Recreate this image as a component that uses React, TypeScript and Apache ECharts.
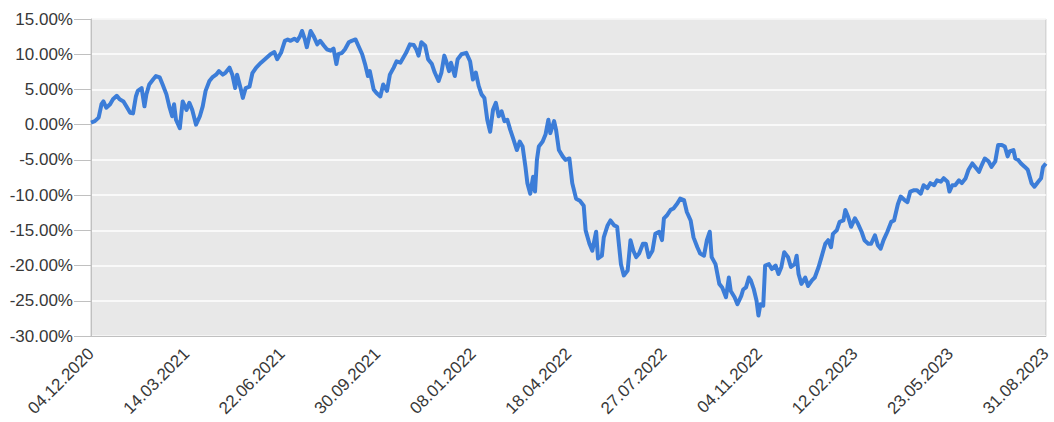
import React, { useEffect, useRef } from "react";
import * as echarts from "echarts";

// Day offsets since 04.12.2020 and cumulative return (%)
const dayOffsets = [
  0, 4, 8, 11, 13, 16, 20, 23, 27, 30, 34, 37, 41, 44, 47, 49, 53, 56, 58, 61,
  65, 68, 72, 75, 79, 82, 85, 87, 89, 93, 96, 100, 103, 106, 110, 114, 117, 120, 124, 127,
  131, 134, 138, 141, 145, 148, 151, 153, 157, 159, 162, 166, 169, 173, 178, 183, 188, 192, 195, 199,
  203, 206, 209, 213, 216, 219, 221, 224, 226, 230, 233, 237, 240, 244, 247, 251, 254, 257, 259, 263,
  266, 270, 273, 277, 280, 284, 287, 290, 292, 296, 299, 303, 306, 310, 313, 317, 320, 324, 327, 330,
  334, 338, 341, 343, 346, 350, 353, 357, 360, 364, 367, 370, 372, 375, 377, 381, 384, 388, 393, 397,
  400, 403, 406, 409, 412, 415, 418, 421, 424, 427, 430, 433, 436, 439, 442, 446, 449, 452, 455, 457,
  460, 463, 465, 467, 469, 473, 476, 479, 481, 485, 487, 490, 494, 497, 501, 504, 508, 512, 516, 518,
  522, 525, 529, 531, 535, 537, 541, 544, 548, 551, 555, 558, 562, 565, 568, 571, 574, 578, 581, 584,
  588, 591, 595, 598, 600, 603, 607, 610, 614, 617, 621, 624, 628, 631, 635, 638, 642, 645, 648, 650,
  654, 658, 661, 665, 668, 670, 674, 677, 681, 683, 686, 689, 691, 694, 697, 699, 701, 704, 706, 710,
  713, 717, 720, 723, 726, 730, 733, 737, 739, 741, 744, 748, 751, 755, 758, 762, 765, 769, 772, 775,
  777, 781, 784, 788, 790, 793, 796, 800, 803, 807, 810, 814, 817, 821, 824, 827, 830, 834, 838, 841,
  845, 848, 852, 855, 858, 862, 865, 869, 872, 876, 879, 883, 886, 890, 893, 897, 899, 902, 905, 909,
  912, 916, 919, 923, 926, 930, 933, 936, 940, 943, 947, 950, 954, 957, 960, 962, 966, 968, 971, 974,
  978, 981, 985, 988, 992, 995, 997, 1000,
];

const returnsPct = [
  0.3, 0.5, 1.0, 2.9, 3.3, 2.4, 2.9, 3.6, 4.1, 3.6, 3.3, 2.6, 1.7, 1.6, 4.0, 4.8, 5.2, 2.6, 4.3, 5.7,
  6.4, 6.9, 6.7, 5.7, 4.3, 2.6, 1.2, 2.9, 0.7, -0.5, 3.3, 2.1, 3.1, 2.1, 0.0, 1.2, 2.6, 4.8, 6.2, 6.7,
  7.1, 7.6, 7.1, 7.4, 8.1, 7.1, 5.2, 7.1, 5.0, 3.8, 5.2, 5.4, 7.3, 8.1, 8.8, 9.4, 10.0, 10.3, 9.3, 10.2,
  11.9, 12.1, 11.9, 12.2, 11.9, 12.6, 13.3, 12.1, 11.0, 13.3, 12.6, 11.4, 11.9, 11.2, 10.7, 10.5, 10.8, 8.6, 10.0, 10.2,
  10.7, 11.7, 11.9, 12.1, 11.2, 10.0, 8.6, 6.9, 7.6, 5.0, 4.5, 4.0, 5.7, 4.8, 7.1, 8.1, 9.0, 8.8, 9.5, 10.2,
  11.4, 11.3, 10.6, 9.8, 11.7, 11.2, 9.3, 8.6, 7.4, 6.2, 7.4, 9.8, 9.0, 7.6, 8.8, 6.9, 9.3, 10.0, 10.2, 9.0,
  6.4, 7.4, 5.5, 4.3, 3.8, 0.7, -1.0, 2.1, 3.1, 1.2, 1.9, 0.5, 0.7, -0.7, -1.9, -3.6, -2.4, -3.1, -6.0, -8.3,
  -9.8, -7.4, -9.5, -5.0, -3.1, -2.4, -1.4, 0.7, -1.2, 0.5, -0.7, -3.6, -4.5, -5.0, -4.8, -8.3, -10.5, -10.8, -11.5, -15.0,
  -16.9, -17.9, -15.2, -19.0, -18.6, -16.0, -14.3, -13.6, -14.3, -14.5, -19.8, -21.4, -20.7, -16.4, -17.9, -18.8, -18.3, -16.9, -16.9, -18.8,
  -17.9, -15.5, -15.2, -16.4, -13.3, -12.9, -12.1, -11.9, -11.2, -10.5, -10.7, -12.4, -13.6, -16.0, -17.4, -18.3, -18.6, -16.4, -15.2, -18.8,
  -19.8, -22.6, -23.1, -24.5, -21.7, -23.6, -24.5, -25.5, -24.3, -23.4, -23.1, -21.7, -22.1, -23.3, -25.0, -27.1, -25.5, -25.7, -20.0, -19.8,
  -20.5, -20.0, -21.2, -20.2, -18.1, -18.8, -20.2, -19.8, -18.6, -21.2, -22.6, -21.7, -22.9, -22.1, -21.7, -20.2, -18.8, -16.9, -16.4, -17.4,
  -15.5, -15.0, -13.8, -13.6, -12.1, -13.1, -14.5, -13.3, -14.0, -15.2, -16.4, -16.9, -16.9, -15.7, -17.1, -17.6, -16.4, -15.2, -13.8, -13.6,
  -11.3, -10.2, -10.7, -11.0, -9.5, -9.3, -9.3, -9.8, -8.6, -9.0, -8.3, -8.6, -7.9, -8.1, -7.6, -8.1, -9.5, -8.6, -8.6, -7.9,
  -8.3, -7.6, -6.4, -5.5, -6.0, -6.7, -5.7, -4.8, -5.2, -6.0, -5.2, -2.9, -2.9, -3.1, -4.5, -3.8, -3.6, -4.8, -5.0, -5.5,
  -6.0, -6.4, -8.3, -8.8, -8.1, -7.6, -6.0, -5.5,
];

const startDate = { year: 2020, month: 11, day: 4 };
const yTicks = { min: -30, max: 15, step: 5 };
const xTicks = { min: 0, max: 1000, step: 100 };

function fmtDate(offset: number): string {
  const d = new Date(startDate.year, startDate.month, startDate.day + Math.round(offset));
  const dd = String(d.getDate()).padStart(2, "0");
  const mm = String(d.getMonth() + 1).padStart(2, "0");
  return `${dd}.${mm}.${d.getFullYear()}`;
}

export default function App() {
  const ref = useRef<HTMLDivElement>(null);
  useEffect(() => {
    if (!ref.current) return;
    const chart = echarts.init(ref.current, null, { renderer: "svg" });
    const data = dayOffsets.map((d, i) => [d, returnsPct[i]]);
    const font = "'Liberation Sans', Arial, sans-serif";
    chart.setOption({
      animation: false,
      grid: {
        left: 91,
        right: 3,
        top: 19,
        bottom: 86,
        show: true,
        backgroundColor: "#e8e8e8",
        borderColor: "#c8c8c8",
        borderWidth: 1,
      },
      xAxis: {
        type: "value",
        min: xTicks.min,
        max: xTicks.max,
        interval: xTicks.step,
        axisLine: { show: true, onZero: false, lineStyle: { color: "#c0c0c0", width: 1 } },
        axisTick: { show: false },
        splitLine: { show: false },
        axisLabel: {
          rotate: 45,
          margin: 15,
          fontSize: 17,
          fontFamily: font,
          color: "#383838",
          showMinLabel: true,
          showMaxLabel: true,
          formatter: (v: number) => fmtDate(v),
        },
      },
      yAxis: {
        type: "value",
        min: yTicks.min,
        max: yTicks.max,
        interval: yTicks.step,
        axisLine: { show: true, lineStyle: { color: "#c0c0c0", width: 1 } },
        axisTick: { show: true, length: 17, lineStyle: { color: "#c0c0c0" } },
        splitLine: { show: true, lineStyle: { color: "#ffffff", width: 1.5 } },
        axisLabel: {
          margin: 18,
          fontSize: 17,
          fontFamily: font,
          color: "#383838",
          formatter: (v: number) => v.toFixed(2) + "%",
        },
      },
      series: [
        {
          type: "line",
          data,
          showSymbol: false,
          symbol: "none",
          lineStyle: { color: "#3c7dd8", width: 4, join: "round" },
          itemStyle: { color: "#3c7dd8" },
        },
      ],
    });
    return () => chart.dispose();
  }, []);
  return (
    <div
      ref={ref}
      style={{ position: "absolute", left: 0, top: 0, width: 1054, height: 422 }}
    />
  );
}
